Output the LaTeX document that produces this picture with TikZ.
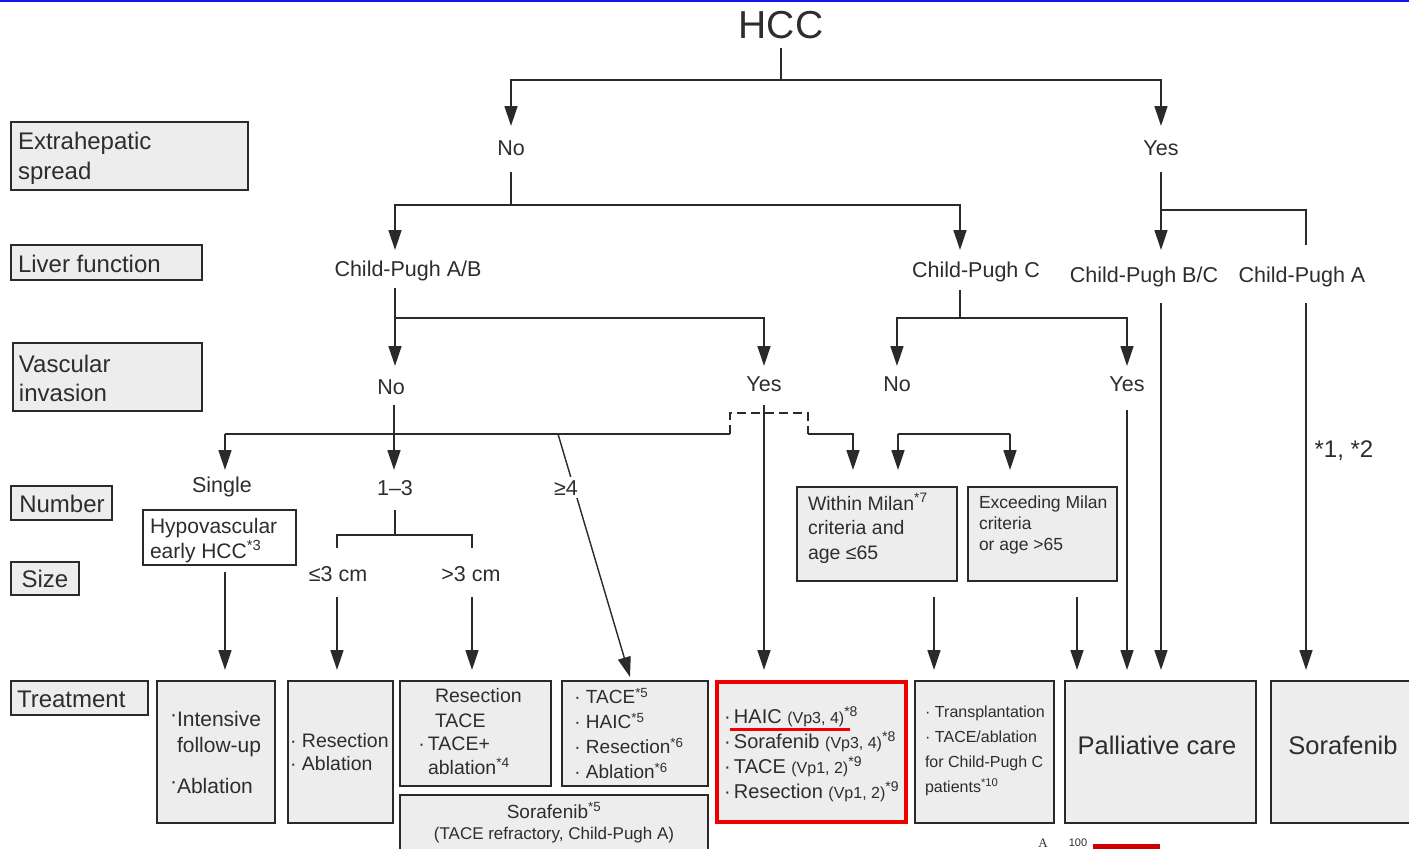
\documentclass[tikz,border=0pt]{standalone}
\usepackage{fontspec}
\setmainfont{Liberation Sans}
\newfontfamily\serifA{Liberation Serif}
\usetikzlibrary{arrows.meta}
\definecolor{txt}{HTML}{2D2D2D}
\definecolor{lnc}{HTML}{2A2A2A}
\definecolor{boxg}{HTML}{EDEDED}
\definecolor{redc}{HTML}{F00000}
\definecolor{topblue}{HTML}{1414F0}
\newcommand\fsz[2]{\fontsize{#1}{#2}\selectfont}
\newcommand\sps[1]{\smash{\textsuperscript{#1}}}
\begin{document}
\begin{tikzpicture}[x=1pt,y=-1pt,
  t/.style={text=txt, inner sep=0pt, outer sep=0pt, font=\fsz{21.5}{26}},
  gbox/.style={draw=lnc, fill=boxg, line width=1.3pt, inner sep=0pt, outer sep=0pt},
  ln/.style={draw=lnc, line width=1.4pt},
  ar/.style={ln, -{Triangle[length=20pt,width=13pt]}},
  dsh/.style={ln, dash pattern=on 9pt off 5pt},
]
\useasboundingbox (0,0) rectangle (1409,849);
\clip (0,0) rectangle (1409,849);
\fill[white] (0,0) rectangle (1409,849);
\draw[topblue, line width=2.5pt] (0,1) -- (1409,1);

% ---------- left label boxes ----------
\node[gbox, minimum width=237pt, minimum height=68pt] (bext) at (129.5,156) {};
\node[t, font=\fsz{24}{30}, align=left, anchor=north west] (xext) at (18,132) {Extrahepatic\\spread};
\node[gbox, minimum width=191pt, minimum height=35pt] (bliv) at (106.5,262.5) {};
\node[t, font=\fsz{24}{30}, anchor=west] (xliv) at (18,264) {Liver function};
\node[gbox, minimum width=189pt, minimum height=68pt] (bvas) at (107.5,377) {};
\node[t, font=\fsz{24}{29}, align=left, anchor=north west] (xvas) at (19,355) {Vascular\\invasion};
\node[gbox, minimum width=101pt, minimum height=34pt] (bnum) at (61.5,503) {};
\node[t, font=\fsz{24}{30}] (xnum) at (62,504) {Number};
\node[gbox, minimum width=68pt, minimum height=33pt] (bsize) at (45,578.5) {};
\node[t, font=\fsz{24}{30}] (xsize) at (45,579) {Size};
\node[gbox, minimum width=137pt, minimum height=34pt] (btreat) at (79.5,698) {};
\node[t, font=\fsz{24}{30}, anchor=west] (xtreat) at (17,699) {Treatment};

% ---------- tree labels ----------
\node[t, font=\fsz{39}{44}, anchor=base] (hcc) at (781,38) {HCC};
\node[t, anchor=base] (no1) at (511,155) {No};
\node[t, anchor=base] (yes1) at (1161,155) {Yes};
\node[t, anchor=base] (cpab) at (408,276) {Child-Pugh A/B};
\node[t, anchor=base] (cpc) at (976,277) {Child-Pugh C};
\node[t, anchor=base] (cpbc) at (1144,282) {Child-Pugh B/C};
\node[t, anchor=base] (cpa) at (1302,282) {Child-Pugh A};
\node[t, anchor=base] (no2) at (391,394) {No};
\node[t, anchor=base] (yes2) at (764,391) {Yes};
\node[t, anchor=base] (no3) at (897,391) {No};
\node[t, anchor=base] (yes3) at (1127,391) {Yes};
\node[t, anchor=base] (single) at (222,492) {Single};
\node[t, anchor=base] (n13) at (395,495) {1–3};
\node[t, anchor=base] (le3) at (338,581) {≤3 cm};
\node[t, anchor=base] (gt3) at (471,581) {>3 cm};
\node[t, font=\fsz{24}{28}, anchor=base] (star12) at (1344,457) {*1, *2};

% ---------- middle boxes ----------
\node[draw=lnc, fill=white, line width=1.3pt, inner sep=0pt, minimum width=153pt, minimum height=55pt] (hypo) at (219.5,537.5) {};
\node[t, font=\fsz{21}{25}, align=left, anchor=north west] (xhypo) at (150,518) {Hypovascular\\early HCC\sps{*3}};
\node[gbox, minimum width=160pt, minimum height=94pt] (wmil) at (877,534) {};
\node[t, font=\fsz{19.5}{24.5}, align=left, anchor=north west] (xwmil) at (808,496) {Within Milan\sps{*7}\\criteria and\\age ≤65};
\node[gbox, minimum width=149pt, minimum height=94pt] (emil) at (1042.5,534) {};
\node[t, font=\fsz{17.5}{21}, align=left, anchor=north west] (xemil) at (979,496) {Exceeding Milan\\criteria\\or age >65};

% ---------- treatment boxes ----------
\node[gbox, minimum width=118pt, minimum height=142pt] (t1) at (216,752) {};
\node[t, font=\fsz{21}{26}, align=left, anchor=north west] (xt1a) at (177,711) {\llap{\raisebox{0.45ex}{·}}Intensive\\follow-up};
\node[t, font=\fsz{21}{26}, align=left, anchor=north west] (xt1b) at (177,778) {\llap{\raisebox{0.45ex}{·}}Ablation};

\node[gbox, minimum width=105pt, minimum height=142pt] (t2) at (340.5,752) {};
\node[t, font=\fsz{19.5}{23}, align=left, anchor=north west] (xt2) at (302,733) {\llap{· }Resection\\\llap{· }Ablation};

\node[gbox, minimum width=151pt, minimum height=105pt] (t3) at (475.5,733.5) {};
\node[t, font=\fsz{19.5}{25}, align=left, anchor=north west] (xt3a) at (435,688) {Resection\\TACE};
\node[t, font=\fsz{19.5}{24}, align=left, anchor=north west] (xt3b) at (428,737) {\llap{·\,}TACE+\\ablation\sps{*4}};

\node[gbox, minimum width=308pt, minimum height=65pt] (sorab) at (554,827.5) {};
\node[t, font=\fsz{19}{22}, anchor=base] (xsorab1) at (554,818) {Sorafenib\sps{*5}};
\node[t, font=\fsz{17}{20}, anchor=base] (xsorab2) at (554,839) {(TACE refractory, Child-Pugh A)};

\node[gbox, minimum width=146pt, minimum height=105pt] (t4) at (635,733.5) {};
\node[t, font=\fsz{19}{25}, align=left, anchor=north west] (xt4) at (586,690)
  {\llap{· }TACE\sps{*5}\\\llap{· }HAIC\sps{*5}\\\llap{· }Resection\sps{*6}\\\llap{· }Ablation\sps{*6}};

\node[gbox, draw=redc, line width=4pt, minimum width=189pt, minimum height=140pt] (t5) at (811.5,752) {};
\node[t, font=\fsz{20}{25}, align=left, anchor=north west] (xt5) at (734,710)
  {\llap{·\,}HAIC {\fsz{16}{20}(Vp3, 4)}\sps{*8}\\
   \llap{·\,}Sorafenib {\fsz{16}{20}(Vp3, 4)}\sps{*8}\\
   \llap{·\,}TACE {\fsz{16}{20}(Vp1, 2)}\sps{*9}\\
   \llap{·\,}Resection {\fsz{16}{20}(Vp1, 2)}\sps{*9}};
\draw[redc, line width=3pt] (730,729) -- (850,729);

\node[gbox, minimum width=139pt, minimum height=142pt] (t6) at (984.5,752) {};
\node[t, font=\fsz{16}{25}, align=left, anchor=north west] (xt6) at (925,706)
  {\hspace*{10pt}\llap{· }Transplantation\\\hspace*{10pt}\llap{· }TACE/ablation\\for Child-Pugh C\\patients\sps{*10}};

\node[gbox, minimum width=191pt, minimum height=142pt] (pall) at (1160.5,752) {};
\node[t, font=\fsz{25.5}{30}] (xpall) at (1157,745) {Palliative care};
\node[gbox, minimum width=149pt, minimum height=142pt] (sora) at (1345.5,752) {};
\node[t, font=\fsz{25.5}{30}] (xsora) at (1343,745) {Sorafenib};

% ---------- coordinates ----------
\coordinate (c0) at (781,80);
\coordinate (a-no1) at (511,126);
\coordinate (a-yes1) at (1161,126);
\coordinate (c1) at (511,205);
\coordinate (a-cpab) at (395,250);
\coordinate (a-cpc) at (960,250);
\coordinate (c2) at (1161,210);
\coordinate (a-cpbc) at (1161,250);
\coordinate (e-cpa) at (1306,245);
\coordinate (c3s) at (395,288);
\coordinate (c3) at (395,318);
\coordinate (a-no2) at (395,366);
\coordinate (a-yes2) at (764,366);
\coordinate (c4s) at (960,290);
\coordinate (c4) at (960,318);
\coordinate (a-no3) at (897,366);
\coordinate (a-yes3) at (1127,366);
\coordinate (s-cpbc) at (1161,303);
\coordinate (s-cpa) at (1306,303);
\coordinate (s-yes3) at (1127,410);
\coordinate (s-yes2) at (764,405);
\coordinate (s-no2) at (394,405);
\coordinate (a-n13) at (394,470);
\coordinate (h1) at (225,434);
\coordinate (a-single) at (225,470);
\coordinate (h2) at (730,434);
\coordinate (h3) at (808,413);
\coordinate (h4) at (808,434);
\coordinate (a-wm1) at (853,470);
\coordinate (g1) at (558,434);
\coordinate (a-t4) at (630,677);
\coordinate (h5) at (898,434);
\coordinate (h6) at (1010,434);
\coordinate (a-wm2) at (898,470);
\coordinate (a-em) at (1010,470);
\coordinate (s-hypo) at (225,572);
\coordinate (a-t1) at (225,670);
\coordinate (s-n13) at (395,510);
\coordinate (c5) at (395,535);
\coordinate (e-le3) at (337,548);
\coordinate (e-gt3) at (472,548);
\coordinate (s-le3) at (337,597);
\coordinate (s-gt3) at (472,597);
\coordinate (a-t2) at (337,670);
\coordinate (a-t3) at (472,670);
\coordinate (s-wm) at (934,597);
\coordinate (a-t6) at (934,670);
\coordinate (s-em) at (1077,597);
\coordinate (a-pal1) at (1077,670);
\coordinate (a-pal2) at (1127,670);
\coordinate (a-pal3) at (1161,670);
\coordinate (a-sora) at (1306,670);
\coordinate (a-t5) at (764,670);

% ---------- connectors ----------
\draw[ln, shorten <=10pt] (hcc.south) -- (c0);
\draw[ar] (c0) -| (a-no1);
\draw[ar] (c0) -| (a-yes1);
\draw[ln, shorten <=17pt] (no1.south) -- (c1);
\draw[ar] (c1) -| (a-cpab);
\draw[ar] (c1) -| (a-cpc);
\draw[ln, shorten <=17pt] (yes1.south) -- (c2);
\draw[ar] (c2) -- (a-cpbc);
\draw[ln] (c2) -| (e-cpa);
\draw[ln] (c3s) -- (c3);
\draw[ar] (c3) -- (a-no2);
\draw[ar] (c3) -| (a-yes2);
\draw[ln] (c4s) -- (c4);
\draw[ar] (c4) -| (a-no3);
\draw[ar] (c4) -| (a-yes3);
\draw[ar] (s-cpbc) -- (a-pal3);
\draw[ar] (s-cpa) -- (a-sora);
\draw[ar] (s-yes3) -- (a-pal2);
\draw[ar] (s-yes2) -- (a-t5);
\draw[ar] (s-no2) -- (a-n13);
\draw[ln] (h1) -- (h2);
\draw[ar] (h1) -- (a-single);
\draw[dsh] (h2) |- (h3) -- (h4);
\draw[ar] (h4) -| (a-wm1);
\draw[ar] (g1) -- (a-t4);
\node[t, anchor=base, fill=white, inner sep=3pt] (ge4) at (566,495) {≥4};
\draw[ln] (h5) -- (h6);
\draw[ar] (h5) -- (a-wm2);
\draw[ar] (h6) -- (a-em);
\draw[ar] (s-hypo) -- (a-t1);
\draw[ln] (s-n13) -- (c5);
\draw[ln] (e-le3) |- (c5) -| (e-gt3);
\draw[ar] (s-le3) -- (a-t2);
\draw[ar] (s-gt3) -- (a-t3);
\draw[ar] (s-wm) -- (a-t6);
\draw[ar] (s-em) -- (a-pal1);

% ---------- fragment of the next figure at the bottom ----------
\node[t, font=\serifA\fsz{13}{15}, anchor=base] (fragA) at (1043,847) {A};
\node[t, font=\fsz{11}{13}, anchor=base] (frag100) at (1078,846) {100};
\fill[redc!85!black] (1093,844) rectangle (1160,852);
\end{tikzpicture}
\end{document}
